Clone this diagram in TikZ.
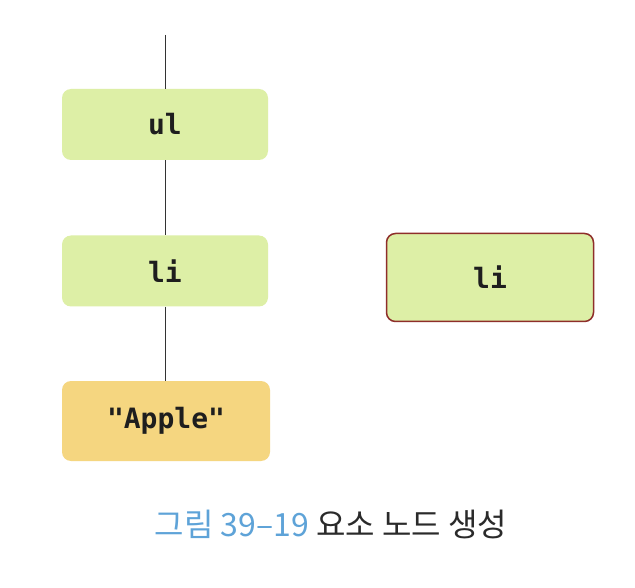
\documentclass[tikz,border=0pt]{standalone}
\usepackage{fontspec}
\newfontfamily\codefont{DejaVu Sans Mono}[BoldFont={DejaVu Sans Mono Bold}]
\newfontfamily\krfont{Noto Sans CJK KR}
\definecolor{boxgreen}{HTML}{DDEFA6}
\definecolor{boxorange}{HTML}{F5D680}
\definecolor{boxred}{HTML}{8E2E2A}
\definecolor{capblue}{HTML}{5EA3D8}
\definecolor{captext}{HTML}{2A2A2A}
\definecolor{txt}{HTML}{1E1E1E}
\begin{document}
\begin{tikzpicture}[x=1pt,y=-1pt,
  nodebox/.style={rounded corners=9pt, minimum width=206pt, minimum height=71pt,
    inner sep=0pt, font=\codefont\bfseries\fontsize{28}{32}\selectfont, text=txt},
  link/.style={draw=black!80, line width=0.8pt}]
\useasboundingbox (0,0) rectangle (635,588);
\fill[white] (0,0) rectangle (635,588);
\coordinate (top) at (165,35);
\node[nodebox, fill=boxgreen] (ul) at (165,124.5) {ul};
\node[nodebox, fill=boxgreen] (li) at (165,271) {li};
\node[nodebox, fill=boxorange, minimum width=208pt, minimum height=80pt] (apple) at (166,421) {"Apple"};
\node[nodebox, fill=boxgreen, draw=boxred, line width=1.5pt, minimum width=207pt, minimum height=88pt] (li2) at (490,277.5) {li};
\draw[link] (top) -- (ul.north);
\draw[link] (ul.south) -- (li.north);
\draw[link] (li.south) -- (li.south |- apple.north);
\node[font=\krfont\fontsize{32}{36}\selectfont, anchor=center] (cap) at (331,524)
  {\textcolor{capblue}{그림 39–19} \textcolor{captext}{요소 노드 생성}};
\end{tikzpicture}
\end{document}
